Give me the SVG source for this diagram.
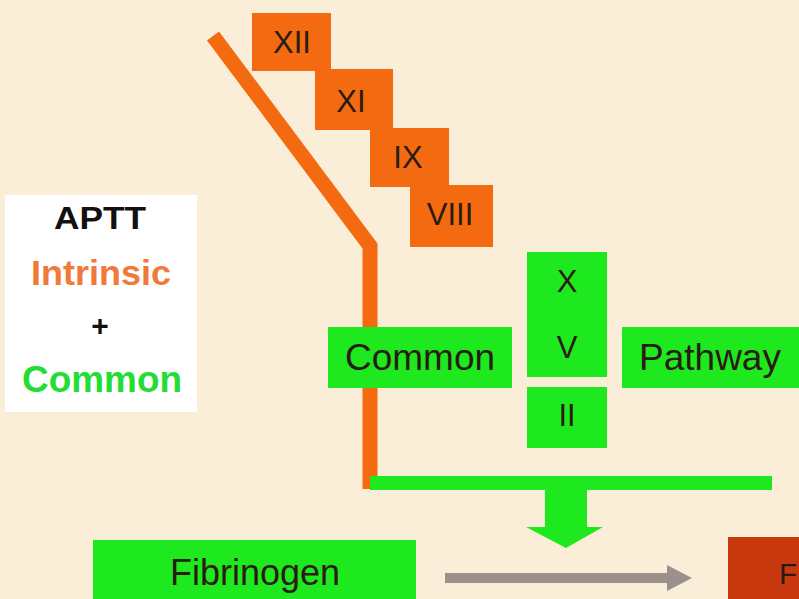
<svg xmlns="http://www.w3.org/2000/svg" width="799" height="599" viewBox="0 0 799 599">
<defs>
<style>
.or{fill:#f36a10}
.gr{fill:#1ee81e}
.t{font-family:"Liberation Sans",Arial,sans-serif;fill:#2a1c12;text-anchor:middle}
.rom{font-size:31px}
.big{font-size:37px}
.leg{font-family:"Liberation Sans",Arial,sans-serif;font-weight:bold;text-anchor:middle}
</style>
</defs>
<rect width="799" height="599" fill="#fbeed9"/>

<g id="connectors">
<polyline points="213,36 370,246 370,489" fill="none" stroke="#f36a10" stroke-width="15" stroke-linejoin="miter"/>
<rect x="370" y="476" width="402" height="14" class="gr"/>
<polygon points="545,490 587,490 587,527 603,527 566,548 526,527 545,527" class="gr"/>
<rect x="445" y="573" width="225" height="10" fill="#9b918a"/>
<polygon points="667,565 692,578 667,591" fill="#9b918a"/>
</g>

<g id="legend">
<rect x="5" y="195" width="192" height="217" fill="#ffffff"/>
<text x="100" y="229" class="leg" font-size="31" fill="#111" textLength="92" lengthAdjust="spacingAndGlyphs">APTT</text>
<text x="101" y="285" class="leg" font-size="35" fill="#ef7a3a" textLength="140" lengthAdjust="spacingAndGlyphs">Intrinsic</text>
<text x="100" y="336" class="leg" font-size="30" fill="#111">+</text>
<text x="102" y="392" class="leg" font-size="36" fill="#22dd33" textLength="160" lengthAdjust="spacingAndGlyphs">Common</text>
</g>

<g id="n-XII"><rect x="252" y="13" width="79" height="58" class="or"/><text x="292" y="53" class="t rom">XII</text></g>
<g id="n-XI"><rect x="315" y="69" width="78" height="61" class="or"/><text x="351" y="112" class="t rom">XI</text></g>
<g id="n-IX"><rect x="370" y="128" width="79" height="59" class="or"/><text x="408" y="168" class="t rom">IX</text></g>
<g id="n-VIII"><rect x="410" y="185" width="83" height="62" class="or"/><text x="450" y="225" class="t rom">VIII</text></g>

<g id="n-common"><rect x="328" y="327" width="184" height="61" class="gr"/><text x="420" y="370" class="t big">Common</text></g>
<g id="n-XV"><rect x="527" y="252" width="80" height="125" class="gr"/><text x="567" y="292" class="t rom">X</text><text x="567" y="358" class="t rom">V</text></g>
<g id="n-II"><rect x="527" y="387" width="80" height="61" class="gr"/><text x="567" y="426" class="t rom">II</text></g>
<g id="n-pathway"><rect x="622" y="327" width="177" height="61" class="gr"/><text x="710" y="370" class="t big">Pathway</text></g>

<g id="n-fibrinogen"><rect x="93" y="540" width="323" height="59" class="gr"/><text x="255" y="585" class="t" font-size="36">Fibrinogen</text></g>
<g id="n-fibrin"><rect x="728" y="537" width="71" height="62" fill="#c8380f"/><text x="779" y="584" font-family="Liberation Sans, Arial, sans-serif" font-size="30" fill="#2a1c12">F</text></g>
</svg>
